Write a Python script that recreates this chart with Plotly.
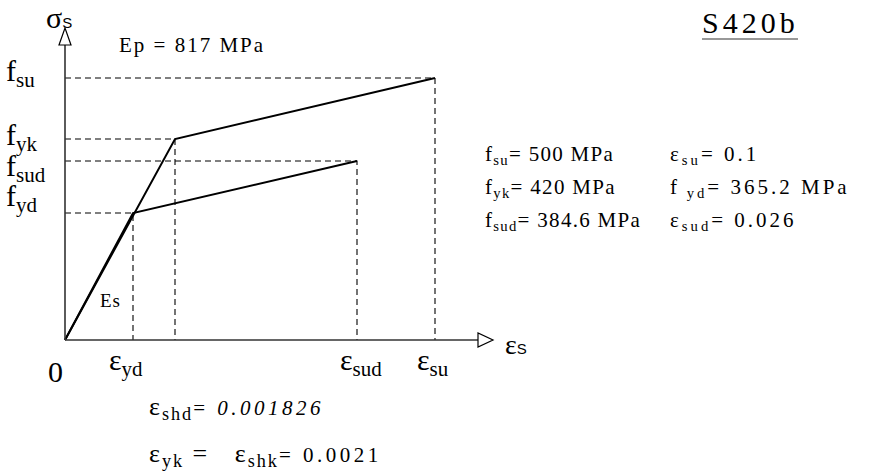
import plotly.graph_objects as go

# ---- schematic diagram values (diagram units; origin = 0) ----
strain_keys = ["yd", "yk", "sud", "su"]
strain_pos = [68, 110, 292, 370]          # ε_yd, ε_yk, ε_sud, ε_su (schematic)
stress_keys = ["yd", "yk", "sud", "su"]
stress_pos = [127, 201, 179, 262]         # f_yd, f_yk, f_sud, f_su (schematic)

design_pts = ["yd", "sud"]                # design curve: 0 -> yd -> sud
charac_pts = ["yk", "su"]                 # characteristic curve: 0 -> yk -> su

stress_labels = ["f<sub>su</sub>", "f<sub>yk</sub>", "f<sub>sud</sub>", "f<sub>yd</sub>"]
strain_labels = ["ε<sub>yd</sub>", "ε<sub>sud</sub>", "ε<sub>su</sub>"]

props_left = ["f<sub>su</sub>= 500 MPa", "f<sub>yk</sub>= 420 MPa", "f<sub>sud</sub>= 384.6 MPa"]
props_right = ["ε<sub>su</sub>= 0.1", "f<sub> yd</sub>= 365.2 MPa", "ε<sub>sud</sub>= 0.026"]
note_heads = ["ε<sub>shd</sub>", "ε<sub>yk</sub> =   ε<sub>shk</sub>"]
note_values = ["= <i>0.001826</i>", "= 0.0021"]
steel_grade = "S420b"
ep_text = "Ep = 817 MPa"
es_text = "Es"

X = dict(zip(strain_keys, strain_pos))
Y = dict(zip(stress_keys, stress_pos))

W, H = 876, 475
OX, OY = 65, 340  # pixel position of origin


def dx(px):
    return px - OX


def dy(py):
    return OY - py


SERIF = "Liberation Serif"
fig = go.Figure()

# dashed guide lines
gx, gy = [], []
for k in ["yd", "yk", "sud", "su"]:
    gx += [0, X[k], X[k], None]
    gy += [Y[k], Y[k], 0, None]
fig.add_trace(go.Scatter(x=gx, y=gy, mode="lines",
                         line=dict(color="black", width=1.1, dash="6px,4px"),
                         hoverinfo="skip", showlegend=False))

# stress-strain curves
for pts in (design_pts, charac_pts):
    fig.add_trace(go.Scatter(x=[0] + [X[p] for p in pts], y=[0] + [Y[p] for p in pts],
                             mode="lines", line=dict(color="black", width=2),
                             hoverinfo="skip", showlegend=False))

shapes = []
# axes
shapes.append(dict(type="line", x0=0, y0=0, x1=0, y1=dy(45), line=dict(color="#333", width=1.6)))
shapes.append(dict(type="line", x0=0, y0=0, x1=dx(478), y1=0, line=dict(color="#333", width=1.6)))
# open arrowheads
shapes.append(dict(type="path",
                   path=f"M {dx(59)},{dy(45)} L {dx(71)},{dy(45)} L {dx(65)},{dy(28)} Z",
                   line=dict(color="black", width=1.2), fillcolor="white"))
shapes.append(dict(type="path",
                   path=f"M {dx(478)},{dy(333)} L {dx(478)},{dy(347)} L {dx(493)},{dy(340)} Z",
                   line=dict(color="black", width=1.2), fillcolor="white"))
# underline of grade
shapes.append(dict(type="line", x0=dx(702), y0=dy(39), x1=dx(798), y1=dy(39),
                   line=dict(color="#333", width=1.2)))

ann = []


def sp(text, ls):
    return f"<span style='letter-spacing:{ls}px'>{text}</span>"


def txt(text, px, py, size, xanchor="left", family=SERIF):
    ann.append(dict(text=text, x=dx(px), y=dy(py), xref="x", yref="y",
                    xanchor=xanchor, yanchor="middle", showarrow=False,
                    font=dict(family=family, size=size, color="black")))


# axis titles
txt("σ<span style='font-family:Liberation Sans;font-size:15px'>S</span>", 44, 17, 30)
txt("ε<span style='font-family:Liberation Sans;font-size:15px'>S</span>", 503, 344, 28)

# stress labels (left)
for lab, py in zip(stress_labels, [73, 137, 168, 198]):
    txt(lab, 4, py, 30)

# strain labels (bottom)
txt("0", 55, 371, 30, xanchor="center")
for lab, px in zip(strain_labels, [107, 338, 415]):
    txt(lab, px, 362, 30)

txt(sp(es_text, 1), 98, 300, 19)
txt(sp(ep_text, 2), 117, 45, 21)
txt(sp(steel_grade, 4), 700, 22, 30)

for lab, py in zip(props_left, [155, 188, 221]):
    txt(sp(lab, 1.3), 483, py, 21)
for lab, py in zip(props_right, [155, 188, 221]):
    txt(sp(lab, 3), 668, py, 21)

for head, val, py in zip(note_heads, note_values, [408, 455]):
    txt(sp(head, 2) + f"<span style='font-size:21px;letter-spacing:3.5px'>{val}</span>", 147, py, 26)

fig.update_layout(
    width=W, height=H,
    margin=dict(l=0, r=0, t=0, b=0),
    paper_bgcolor="white", plot_bgcolor="white",
    font=dict(family=SERIF),
    xaxis=dict(range=[-OX, W - OX], visible=False, fixedrange=True),
    yaxis=dict(range=[OY - H, OY], visible=False, fixedrange=True),
    shapes=shapes, annotations=ann, showlegend=False,
)

fig.write_html("out.html", config={"displayModeBar": False},
               post_script="document.body.style.margin='0';document.body.style.overflow='hidden';")
